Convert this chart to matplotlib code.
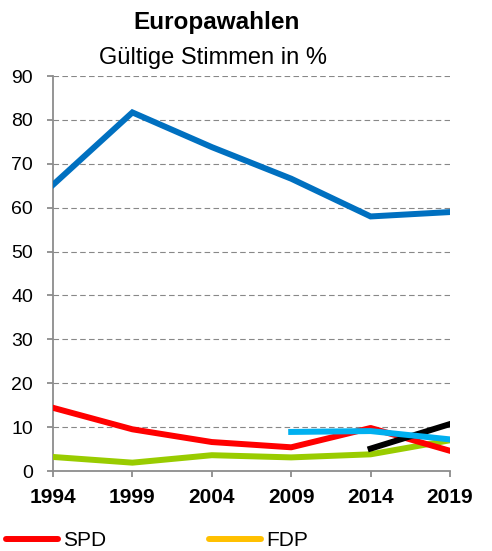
import matplotlib
matplotlib.use("Agg")
import matplotlib.pyplot as plt
from matplotlib.lines import Line2D

plt.rcParams['font.family'] = ['Liberation Sans', 'DejaVu Sans']

years = ["1994", "1999", "2004", "2009", "2014", "2019"]
blue_vals = [65.2, 81.7, 73.8, 66.6, 58.0, 59.0]
spd_vals = [14.4, 9.5, 6.6, 5.4, 9.8, 4.6]
green_vals = [3.2, 1.9, 3.6, 3.1, 3.8, 7.0]
lightblue_years = ["2009", "2014", "2019"]
lightblue_vals = [8.9, 9.1, 7.2]
black_years = ["2014", "2019"]
black_vals = [5.1, 10.7]
yticks = [0, 10, 20, 30, 40, 50, 60, 70, 80, 90]
legend_labels = ["SPD", "FDP"]

fig = plt.figure(figsize=(4.92, 5.51), dpi=100)
ax = fig.add_axes([53/492, 80/551, (450-53)/492, (471-76)/551])

idx = {y: i for i, y in enumerate(years)}
lw = 4.3
ax.plot(range(len(years)), blue_vals, color='#0070C0', lw=lw, solid_joinstyle='miter', zorder=3)
ax.plot(range(len(years)), green_vals, color='#99CC00', lw=lw, zorder=3)
ax.plot(range(len(years)), spd_vals, color='#FF0000', lw=lw, zorder=3)
ax.plot([idx[y] for y in black_years], black_vals, color='#000000', lw=lw, zorder=4)
ax.plot([idx[y] for y in lightblue_years], lightblue_vals, color='#00B0F0', lw=lw, zorder=5)

ax.set_xlim(0, len(years) - 1)
ax.set_ylim(0, 90)
ax.set_yticks(yticks)
ax.set_yticklabels([str(t) for t in yticks], fontsize=14)
ax.set_xticks(range(len(years)))
ax.set_xticklabels(years, fontsize=15, fontweight='bold')
for t in yticks[1:]:
    ax.axhline(t, color='#888888', lw=0.8, linestyle=(0, (5, 3)), zorder=1)

for s in ['top', 'right']:
    ax.spines[s].set_visible(False)
for s in ['left', 'bottom']:
    ax.spines[s].set_color('#8c8c8c')
    ax.spines[s].set_linewidth(1.3)
ax.tick_params(axis='both', colors='#8c8c8c', length=4.3, width=1.3, labelcolor='black')
ax.tick_params(axis='y', pad=10)
ax.tick_params(axis='x', pad=8)

fig.text(217/492, 1 - 29/551, "Europawahlen", ha='center', va='baseline', fontsize=17.5, fontweight='bold')
fig.text(213/492, 1 - 64/551, "Gültige Stimmen in %", ha='center', va='baseline', fontsize=17)

handles = [Line2D([], [], color='#FF0000', lw=lw, solid_capstyle='round'),
           Line2D([], [], color='#FFC000', lw=lw, solid_capstyle='round')]
leg = fig.legend(handles, legend_labels, ncol=2, loc='center left', bbox_to_anchor=(6/492, 10/551),
                 frameon=False, fontsize=15, handlelength=2.5, handletextpad=0.25,
                 columnspacing=4.9, borderaxespad=0, borderpad=0)

fig.savefig("out.png", dpi=100)
